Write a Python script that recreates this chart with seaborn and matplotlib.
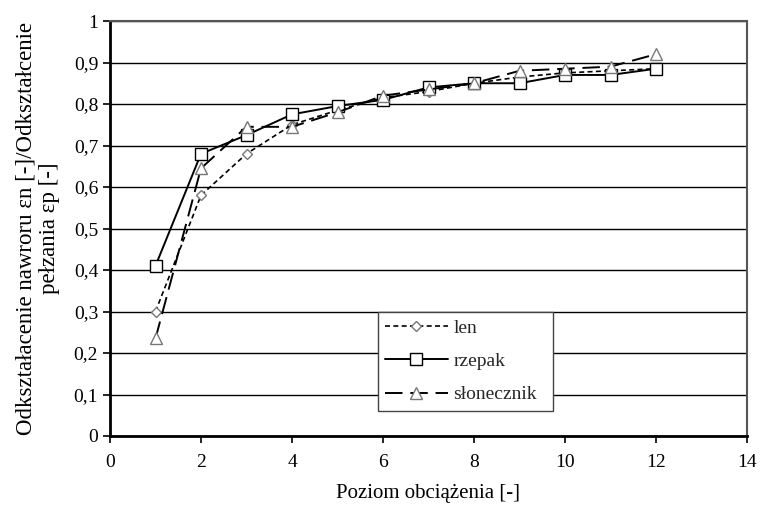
import matplotlib
matplotlib.use("Agg")
import matplotlib.pyplot as plt
import seaborn as sns
import pandas as pd
from matplotlib.ticker import FuncFormatter

x_levels = [1, 2, 3, 4, 5, 6, 7, 8, 9, 10, 11, 12]
len_vals = [0.30, 0.58, 0.68, 0.75, 0.785, 0.815, 0.83, 0.85, 0.865, 0.875, 0.88, 0.885]
rzepak_vals = [0.41, 0.68, 0.725, 0.775, 0.795, 0.81, 0.84, 0.85, 0.85, 0.87, 0.87, 0.885]
slon_vals = [0.235, 0.645, 0.745, 0.745, 0.78, 0.82, 0.835, 0.85, 0.88, 0.885, 0.89, 0.92]
series_names = ["len", "rzepak", "słonecznik"]

sns.set_theme(style="white")
plt.rcParams['font.family'] = ['Liberation Serif', 'DejaVu Serif']

fig = plt.figure(figsize=(7.61, 5.13), dpi=100)
ax = fig.add_axes([110/761, 1-436/513, 637/761, 415/513])

styles = {
    "len": dict(ls=(0, (3, 2)), marker="D", ms=5, mec="#777777", color="black", lw=1.2),
    "rzepak": dict(ls="-", marker="s", ms=8, mec="black", color="black", lw=1.4),
    "słonecznik": dict(ls=(0, (9, 4)), marker="^", ms=9, mec="#777777", color="black", lw=1.4),
}
for name, vals in zip(series_names, [len_vals, rzepak_vals, slon_vals]):
    df = pd.DataFrame({"x": x_levels, "y": vals})
    st = styles[name]
    sns.lineplot(data=df, x="x", y="y", ax=ax, color=st["color"], linewidth=st["lw"],
                 linestyle=st["ls"], marker=st["marker"], markersize=st["ms"],
                 markerfacecolor="white", markeredgecolor=st["mec"], markeredgewidth=1.0,
                 label=name)

ax.set_xlim(0, 14)
ax.set_ylim(0, 1)
ax.set_xticks(range(0, 15, 2))
ax.set_yticks([i/10 for i in range(11)])
ax.yaxis.set_major_formatter(FuncFormatter(lambda v, p: ("%.1f" % v).replace(".", ",") if 0 < v < 1 else "%d" % round(v)))
ax.yaxis.grid(True, color="black", lw=1.0)
ax.xaxis.grid(False)
ax.tick_params(axis="both", labelsize=14, colors="black", length=5, width=1.2, direction="out")
ax.tick_params(axis="x", pad=8)
ax.tick_params(left=True, bottom=True)
for s in ["left", "bottom"]:
    ax.spines[s].set_color("black")
    ax.spines[s].set_linewidth(2)
for s in ["top", "right"]:
    ax.spines[s].set_color("#555555")
    ax.spines[s].set_linewidth(1.5)

ax.set_xlabel("Poziom obciążenia [-]", fontsize=15, color="black", labelpad=9)
ax.set_ylabel("Odkształacenie nawroru εn [-]/Odkształcenie\npełzania εp [-]", fontsize=16.5,
              color="black", labelpad=10, linespacing=1.15)

leg = ax.legend(loc="lower left", bbox_to_anchor=(0.42, 0.06, 0.275, 0.253), mode="expand",
                fontsize=14, frameon=True, fancybox=False, edgecolor="#444444",
                handlelength=3.2, handletextpad=0.3, borderaxespad=0, labelspacing=0.8)
leg.get_frame().set_linewidth(1.0)
leg.get_frame().set_facecolor("white")
leg.get_frame().set_alpha(1)

fig.savefig("out.png", dpi=100)
